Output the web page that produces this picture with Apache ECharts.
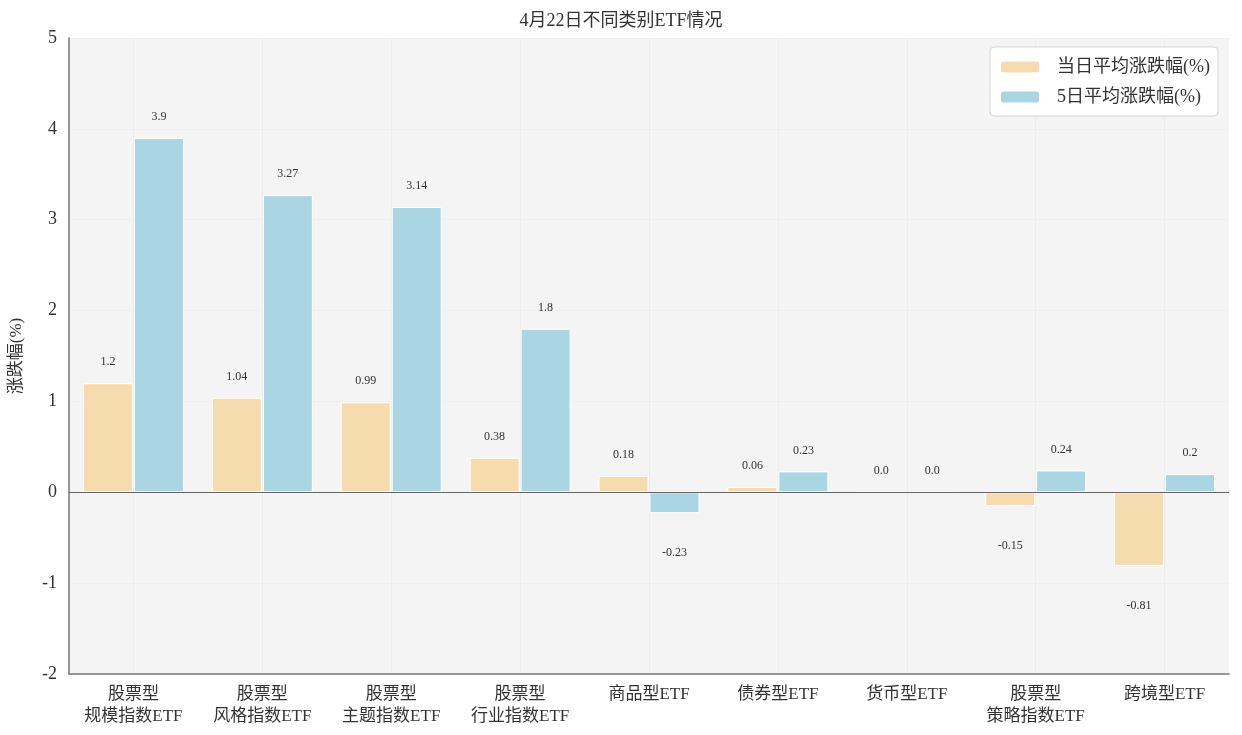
<!DOCTYPE html>
<html>
<head>
    <meta charset="utf-8">
    <title>ETF</title>
    <script src="https://cdn.jsdelivr.net/npm/echarts@6/dist/echarts.min.js"></script>
    <style type="text/css">
        * { margin: 0; padding: 0; }
        body { background: #fff; }
    </style>
</head>
<body>
<div id="main" style="width: 1242px; height: 735px;"></div>
<script type="text/javascript">
    var categories = ['股票型\n规模指数ETF', '股票型\n风格指数ETF', '股票型\n主题指数ETF', '股票型\n行业指数ETF',
        '商品型ETF', '债券型ETF', '货币型ETF', '股票型\n策略指数ETF', '跨境型ETF'];
    var seriesNames = ['当日平均涨跌幅(%)', '5日平均涨跌幅(%)'];
    var dayValues = [1.2, 1.04, 0.99, 0.38, 0.18, 0.06, 0.0, -0.15, -0.81];
    var fiveDayValues = [3.9, 3.27, 3.14, 1.8, -0.23, 0.23, 0.0, 0.24, 0.2];
    var yTicks = [-2, -1, 0, 1, 2, 3, 4, 5];

    var fontSerif = "'Liberation Serif', 'DejaVu Serif', 'Noto Sans CJK SC', serif";
    var myChart = echarts.init(document.getElementById('main'));

    // 负值标签放在柱子下方
    function toItems(arr) {
        return arr.map(function (v) {
            if (v < 0) {
                return { value: v, label: { position: 'bottom', distance: 34 } };
            }
            return { value: v };
        });
    }

    var barLabel = {
        show: true,
        position: 'top',
        distance: 15,
        fontFamily: fontSerif,
        fontSize: 12,
        color: '#333',
        formatter: function (p) {
            return p.value === 0 ? '0.0' : String(p.value);
        }
    };

    var option = {
        animation: false,
        textStyle: { fontFamily: fontSerif },
        title: {
            text: '4月22日不同类别ETF情况',
            left: 'center',
            top: 7,
            textStyle: { fontFamily: fontSerif, fontSize: 18, fontWeight: 'normal', color: '#333' }
        },
        legend: {
            orient: 'vertical',
            right: 24,
            top: 47,
            padding: [11, 8, 10, 9],
            itemGap: 12,
            itemWidth: 40,
            itemHeight: 13,
            backgroundColor: '#fff',
            borderColor: '#d6d6d6',
            borderWidth: 1,
            borderRadius: 4,
            textStyle: {
                fontFamily: fontSerif, fontSize: 18, color: '#333',
                width: 172, overflow: 'truncate', padding: [0, 0, 0, 12]
            },
            data: seriesNames
        },
        grid: {
            left: 66,
            right: 13,
            top: 38,
            bottom: 61,
            show: true,
            backgroundColor: '#f4f4f4',
            borderWidth: 0
        },
        xAxis: {
            type: 'category',
            data: categories,
            axisLine: { onZero: false, lineStyle: { color: '#777', width: 1.5 } },
            axisTick: { show: false, alignWithLabel: true },
            splitLine: { show: true, alignWithLabel: true, lineStyle: { color: '#ececec', width: 1 } },
            axisLabel: {
                fontFamily: fontSerif,
                fontSize: 17,
                lineHeight: 22,
                color: '#333',
                margin: 10,
                interval: 0
            }
        },
        yAxis: {
            type: 'value',
            min: yTicks[0],
            max: yTicks[yTicks.length - 1],
            interval: 1,
            name: '涨跌幅(%)',
            nameLocation: 'middle',
            nameGap: 44,
            nameTextStyle: { fontFamily: fontSerif, fontSize: 17, color: '#333' },
            axisLine: { show: true, lineStyle: { color: '#777', width: 1.5 } },
            axisTick: { show: false },
            splitLine: { show: true, lineStyle: { color: '#efefef', width: 1 } },
            axisLabel: { fontFamily: fontSerif, fontSize: 18, color: '#333', margin: 12 }
        },
        series: [
            {
                name: seriesNames[0],
                type: 'bar',
                barWidth: 50,
                barGap: '2%',
                itemStyle: { color: '#f6dbae', borderColor: '#ffffff', borderWidth: 1 },
                label: barLabel,
                data: toItems(dayValues),
                markLine: {
                    silent: true,
                    symbol: 'none',
                    label: { show: false },
                    lineStyle: { color: '#666', type: 'solid', width: 1 },
                    data: [{ yAxis: 0 }]
                }
            },
            {
                name: seriesNames[1],
                type: 'bar',
                barWidth: 50,
                barGap: '2%',
                itemStyle: { color: '#aad6e4', borderColor: '#ffffff', borderWidth: 1 },
                label: barLabel,
                data: toItems(fiveDayValues)
            }
        ]
    };

    myChart.setOption(option);
</script>
</body>
</html>
